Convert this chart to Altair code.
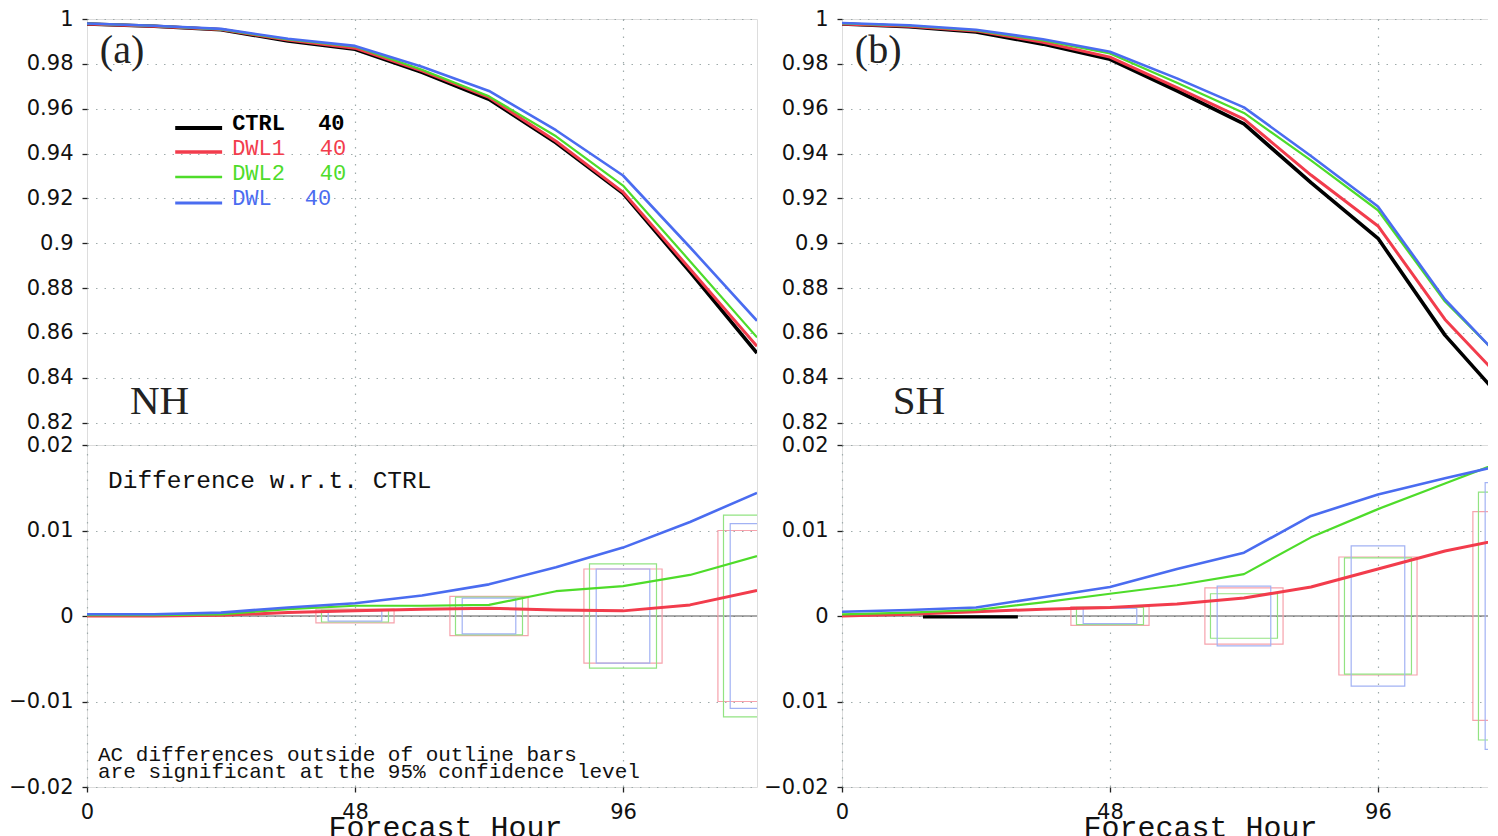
import altair as alt
import pandas as pd

# ---------------- data ----------------
hours = [0, 12, 24, 36, 48, 60, 72, 84, 96, 108, 120]
series = ["CTRL", "DWL1", "DWL2", "DWL"]

# Anomaly correlation, Northern Hemisphere
nh_ctrl = [0.9978, 0.9968, 0.9952, 0.9902, 0.9865, 0.9762, 0.9642, 0.9448, 0.9222, 0.8872, 0.8510]
nh_dwl1 = [0.9978, 0.9968, 0.9953, 0.9906, 0.9870, 0.9769, 0.9650, 0.9455, 0.9228, 0.8885, 0.8540]
nh_dwl2 = [0.9979, 0.9969, 0.9954, 0.9909, 0.9877, 0.9774, 0.9655, 0.9477, 0.9257, 0.8920, 0.8580]
nh_dwl = [0.9980, 0.9970, 0.9956, 0.9912, 0.9880, 0.9787, 0.9679, 0.9504, 0.9302, 0.8982, 0.8654]

# Anomaly correlation, Southern Hemisphere
sh_ctrl = [0.9978, 0.9966, 0.9942, 0.9888, 0.9820, 0.9680, 0.9532, 0.9270, 0.9022, 0.8590, 0.8255]
sh_dwl1 = [0.9978, 0.9968, 0.9947, 0.9896, 0.9830, 0.9694, 0.9553, 0.9304, 0.9077, 0.8660, 0.8345]
sh_dwl2 = [0.9980, 0.9970, 0.9949, 0.9904, 0.9846, 0.9716, 0.9581, 0.9369, 0.9147, 0.8740, 0.8440]
sh_dwl = [0.9982, 0.9972, 0.9952, 0.9910, 0.9854, 0.9735, 0.9606, 0.9389, 0.9164, 0.8749, 0.8435]

# Differences w.r.t. CTRL
nh_d_dwl1 = [0.0000, 0.0000, 0.0001, 0.0004, 0.0006, 0.0008, 0.0009, 0.0007, 0.0006, 0.0013, 0.0030]
nh_d_dwl2 = [0.0001, 0.0001, 0.0002, 0.0008, 0.0012, 0.0012, 0.0013, 0.0029, 0.0035, 0.0048, 0.0070]
nh_d_dwl = [0.0002, 0.0002, 0.0004, 0.0010, 0.0015, 0.0024, 0.0037, 0.0057, 0.0080, 0.0110, 0.0144]

sh_d_dwl1 = [0.0000, 0.0002, 0.0005, 0.0008, 0.0010, 0.0014, 0.0021, 0.0034, 0.0055, 0.0076, 0.0092]
sh_d_dwl2 = [0.0002, 0.0004, 0.0007, 0.0016, 0.0026, 0.0036, 0.0049, 0.0092, 0.0125, 0.0155, 0.0185]
sh_d_dwl = [0.0005, 0.0007, 0.0010, 0.0022, 0.0034, 0.0055, 0.0074, 0.0117, 0.0142, 0.0161, 0.0179]

# short CTRL segment visible on the SH zero line
sh_ctrl_seg_hours = [14.5, 31.5]
sh_ctrl_seg_vals = [-0.0001, -0.0001]

# 95% significance outline bars (half-heights) at these forecast hours
box_hours = [48, 72, 96, 120]
nh_box_dwl1 = [0.0008, 0.0023, 0.0055, 0.0100]
nh_box_dwl2 = [0.0007, 0.0022, 0.0061, 0.0118]
nh_box_dwl = [0.0006, 0.0021, 0.0055, 0.0108]
sh_box_dwl1 = [0.0011, 0.0033, 0.0069, 0.0122]
sh_box_dwl2 = [0.0010, 0.0026, 0.0068, 0.0145]
sh_box_dwl = [0.0009, 0.0035, 0.0082, 0.0156]

top_ticks = [0.82, 0.84, 0.86, 0.88, 0.9, 0.92, 0.94, 0.96, 0.98, 1.0]
bot_ticks = [-0.02, -0.01, 0.0, 0.01, 0.02]
x_ticks = [0, 48, 96]
legend_count = "40"

# ---------------- styles ----------------
line_color = {"CTRL": "#000000", "DWL1": "#f23c4c", "DWL2": "#4edc2a", "DWL": "#4a6cf0"}
line_width = {"CTRL": 3.6, "DWL1": 3.0, "DWL2": 2.2, "DWL": 2.6}
box_color = {"DWL1": "#f6a2ac", "DWL2": "#92e382", "DWL": "#a2b2f4"}
box_half_width = {"DWL1": 7.0, "DWL2": 6.0, "DWL": 4.8}

GRID = dict(grid=True, gridColor="#9fabab", gridDash=[1.5, 7], gridWidth=1.2)
LAB = dict(labelFont="DejaVu Sans", labelFontSize=21, labelColor="#111111",
           labelPadding=9, tickSize=5, tickColor="#222222", tickWidth=1.3,
           domain=False, labelOverlap=False, labelFlush=False)

W_LEFT, W_RIGHT = 670, 656
H_TOP, H_BOT = 426, 342
XMAX_LEFT, XMAX_RIGHT = 120, 117.5


def xenc(field, xmax, axis, two=False):
    if two:
        return alt.X2(field)
    return alt.X(field, type="quantitative",
                 scale=alt.Scale(domain=[0, xmax], nice=False, zero=False), axis=axis)


def yenc(field, dom, axis):
    return alt.Y(field, type="quantitative",
                 scale=alt.Scale(domain=dom, nice=False, zero=False), axis=axis)


def text_layer(rows, xmax, xa, dom, ya, **mk):
    df = pd.DataFrame(rows, columns=["hour", "val", "label"])
    return alt.Chart(df).mark_text(align="left", baseline="middle", **mk).encode(
        x=xenc("hour", xmax, xa), y=yenc("val", dom, ya), text="label:N")


def top_panel(vals, xmax, width, tag, region, tag_hour, region_hour, with_legend):
    xa = alt.Axis(values=[48, 96], labels=False, ticks=False, domain=False, title=None, **GRID)
    ya = alt.Axis(values=top_ticks, format="~g", title=None, **LAB, **GRID)
    dom = [0.81, 1.0]
    layers = []
    for s in series:
        df = pd.DataFrame({"hour": hours, "val": vals[s]})
        layers.append(alt.Chart(df).mark_line(color=line_color[s], strokeWidth=line_width[s],
                                              clip=True, strokeJoin="round").encode(
            x=xenc("hour", xmax, xa), y=yenc("val", dom, ya)))
    layers.append(text_layer([(tag_hour, 0.9857, tag)], xmax, xa, dom, ya,
                             font="Liberation Serif", fontSize=40, color="#222222"))
    layers.append(text_layer([(region_hour, 0.8292, region)], xmax, xa, dom, ya,
                             font="Liberation Serif", fontSize=41, color="#222222"))
    if with_legend:
        rows = [("CTRL", 0.9514, 0.9536, 41.4, "bold"), ("DWL1", 0.9407, 0.9425, 41.7, "normal"),
                ("DWL2", 0.9295, 0.9313, 41.7, "normal"), ("DWL", 0.9179, 0.9202, 39.0, "normal")]
        for name, ly, ty, cx, fw in rows:
            rdf = pd.DataFrame({"x0": [15.8], "x1": [24.2], "val": [ly]})
            layers.append(alt.Chart(rdf).mark_rule(color=line_color[name],
                                                   strokeWidth=line_width[name] + 0.4).encode(
                x=xenc("x0", xmax, xa), x2=xenc("x1", xmax, xa, two=True), y=yenc("val", dom, ya)))
            layers.append(text_layer([(26.0, ty, name), (cx, ty, legend_count)], xmax, xa, dom, ya,
                                     font="Liberation Mono", fontSize=22, fontWeight=fw,
                                     color=line_color[name]))
    return alt.layer(*layers).properties(width=width, height=H_TOP)


def bottom_panel(diffs, boxes, xmax, width, right, extra_ctrl=None):
    xa = alt.Axis(values=x_ticks, format="d", title="Forecast Hour",
                  titleFont="Liberation Mono", titleFontSize=30, titleFontWeight="normal",
                  titleColor="#111111", titleX=358, titleY=49, titleBaseline="alphabetic",
                  titleAlign="center", **LAB, **GRID)
    ykw = dict(values=bot_ticks, format="~g", title=None, **LAB, **GRID)
    if right:
        ykw["labelExpr"] = "datum.value == -0.01 ? '0.01' : format(datum.value, '~g')"
    ya = alt.Axis(**ykw)
    dom = [-0.02, 0.02]
    layers = []
    zdf = pd.DataFrame({"val": [0.0]})
    layers.append(alt.Chart(zdf).mark_rule(color="#555555", strokeWidth=1.1).encode(
        y=yenc("val", dom, ya)))
    for s in ["DWL1", "DWL2", "DWL"]:
        b = boxes[s]
        hw = box_half_width[s]
        bdf = pd.DataFrame({"x0": [h - hw for h in box_hours], "x1": [h + hw for h in box_hours],
                            "lo": [-c for c in b], "hi": b})
        layers.append(alt.Chart(bdf).mark_rect(fillOpacity=0, stroke=box_color[s], strokeWidth=1.2,
                                               clip=True).encode(
            x=xenc("x0", xmax, xa), x2=xenc("x1", xmax, xa, two=True),
            y=yenc("lo", dom, ya), y2=alt.Y2("hi")))
    if extra_ctrl is not None:
        edf = pd.DataFrame({"hour": extra_ctrl[0], "val": extra_ctrl[1]})
        layers.append(alt.Chart(edf).mark_line(color="#000000", strokeWidth=3.2, clip=True).encode(
            x=xenc("hour", xmax, xa), y=yenc("val", dom, ya)))
    for s in ["DWL1", "DWL2", "DWL"]:
        df = pd.DataFrame({"hour": hours, "val": diffs[s]})
        layers.append(alt.Chart(df).mark_line(color=line_color[s], strokeWidth=line_width[s],
                                              clip=True, strokeJoin="round").encode(
            x=xenc("hour", xmax, xa), y=yenc("val", dom, ya)))
    if not right:
        layers.append(text_layer([(3.76, 0.01579, "Difference w.r.t. CTRL")], xmax, xa, dom, ya,
                                 font="Liberation Mono", fontSize=24.5, color="#111111"))
        layers.append(text_layer([(1.97, -0.01626, "AC differences outside of outline bars"),
                                  (1.97, -0.01825, "are significant at the 95% confidence level")],
                                 xmax, xa, dom, ya, font="Liberation Mono", fontSize=21,
                                 color="#111111"))
    return alt.layer(*layers).properties(width=width, height=H_BOT)


nh_top = top_panel({"CTRL": nh_ctrl, "DWL1": nh_dwl1, "DWL2": nh_dwl2, "DWL": nh_dwl},
                   XMAX_LEFT, W_LEFT, "(a)", "NH", 2.3, 7.7, True)
sh_top = top_panel({"CTRL": sh_ctrl, "DWL1": sh_dwl1, "DWL2": sh_dwl2, "DWL": sh_dwl},
                   XMAX_RIGHT, W_RIGHT, "(b)", "SH", 2.3, 9.1, False)
nh_bot = bottom_panel({"DWL1": nh_d_dwl1, "DWL2": nh_d_dwl2, "DWL": nh_d_dwl},
                      {"DWL1": nh_box_dwl1, "DWL2": nh_box_dwl2, "DWL": nh_box_dwl},
                      XMAX_LEFT, W_LEFT, False)
sh_bot = bottom_panel({"DWL1": sh_d_dwl1, "DWL2": sh_d_dwl2, "DWL": sh_d_dwl},
                      {"DWL1": sh_box_dwl1, "DWL2": sh_box_dwl2, "DWL": sh_box_dwl},
                      XMAX_RIGHT, W_RIGHT, True, extra_ctrl=(sh_ctrl_seg_hours, sh_ctrl_seg_vals))

chart = alt.concat(nh_top, sh_top, nh_bot, sh_bot, columns=2,
                   spacing={"row": 0, "column": 85}, bounds="flush").properties(
    padding={"left": 0, "top": -1, "right": -12, "bottom": 0}
).configure_view(stroke="#000000", strokeWidth=2).configure(background="white")

chart.save("out.html", embed_options={"renderer": "svg", "actions": False})
